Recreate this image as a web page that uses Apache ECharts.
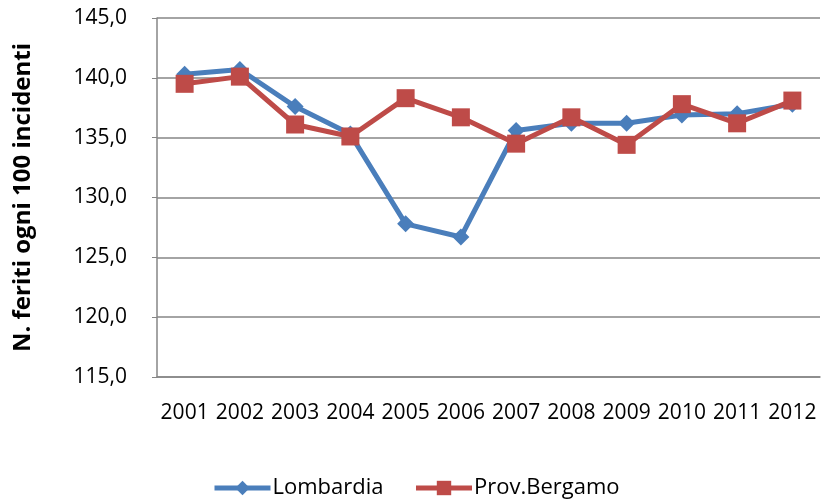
<!DOCTYPE html>
<html>
<head>
<meta charset="utf-8">
<script src="https://cdn.jsdelivr.net/npm/echarts@6/dist/echarts.min.js"></script>
<style>
  html, body { margin: 0; padding: 0; background: #fff; }
  #chart { width: 823px; height: 504px; }
</style>
</head>
<body>
<div id="chart"></div>
<script>
// dati
const anni = ['2001', '2002', '2003', '2004', '2005', '2006', '2007', '2008', '2009', '2010', '2011', '2012']
const lombardia = [140.3, 140.7, 137.6, 135.3, 127.8, 126.7, 135.6, 136.2, 136.2, 136.9, 137.0, 137.8]
const bergamo = [139.5, 140.1, 136.1, 135.1, 138.3, 136.7, 134.5, 136.7, 134.4, 137.8, 136.2, 138.1]

const chart = echarts.init(document.getElementById('chart'))
const font = '"Open Sans", "Noto Sans", sans-serif'

const option = {
  animation: false,
  textStyle: { fontFamily: font },
  grid: { left: 157, right: 3, top: 18, bottom: 127 },
  legend: {
    bottom: 0,
    left: 207,
    itemWidth: 56,
    itemHeight: 18,
    itemGap: 30,
    lineStyle: { width: 5 },
    textStyle: { fontSize: 22, color: '#000', fontFamily: font, padding: [0, 0, 0, -3] },
    data: ['Lombardia', 'Prov.Bergamo']
  },
  xAxis: {
    type: 'category',
    data: anni,
    boundaryGap: true,
    axisLine: { lineStyle: { color: '#868686', width: 1.5 } },
    axisTick: { show: false },
    axisLabel: { color: '#000', fontSize: 21, margin: 26, interval: 0 }
  },
  yAxis: {
    type: 'value',
    min: 115,
    max: 145,
    interval: 5,
    name: 'N. feriti ogni 100 incidenti',
    nameLocation: 'middle',
    nameGap: 122,
    nameTextStyle: { fontSize: 24, fontWeight: 'bold', color: '#000' },
    axisLine: { show: true, lineStyle: { color: '#868686', width: 1.5 } },
    axisTick: { show: true, length: 5, lineStyle: { color: '#868686' } },
    axisLabel: {
      color: '#000',
      fontSize: 21,
      margin: 30,
      formatter: v => v.toFixed(1).replace('.', ',')
    },
    splitLine: { lineStyle: { color: '#868686', width: 1.5 } }
  },
  series: [
    {
      name: 'Lombardia',
      type: 'line',
      data: lombardia,
      symbol: 'diamond',
      symbolSize: 17,
      lineStyle: { color: '#4A7EBB', width: 5 },
      itemStyle: { color: '#4A7EBB' }
    },
    {
      name: 'Prov.Bergamo',
      type: 'line',
      data: bergamo,
      symbol: 'rect',
      symbolSize: 18,
      lineStyle: { color: '#BE4B48', width: 5 },
      itemStyle: { color: '#BE4B48' }
    }
  ]
}
chart.setOption(option)
</script>
</body>
</html>
